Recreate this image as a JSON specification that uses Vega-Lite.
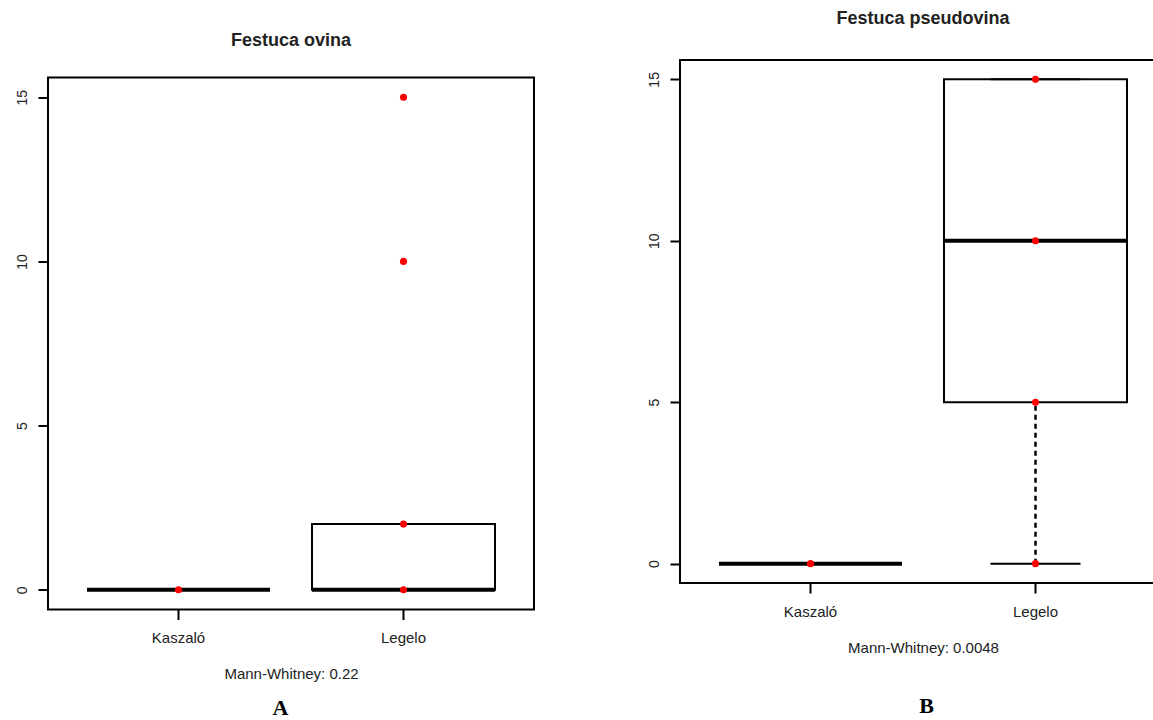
{
  "$schema": "https://vega.github.io/schema/vega-lite/v6.json",
  "background": "white",
  "padding": {"left": 7, "top": 9, "right": 0, "bottom": 0},
  "spacing": 104,
  "center": true,
  "config": {
    "font": "Liberation Sans",
    "view": {"stroke": "black", "strokeWidth": 2},
    "axis": {"labelColor": "#222", "titleColor": "#222", "tickColor": "black", "grid": false, "labelFont": "Liberation Sans", "titleFont": "Liberation Sans"},
    "title": {"color": "#222", "font": "Liberation Sans", "fontWeight": "bold", "fontSize": 18, "frame": "group", "anchor": "middle"}
  },
  "datasets": {
    "boxA": [
      {"site": "Kaszaló", "lower": 0, "q1": 0, "median": 0, "q3": 0, "upper": 0},
      {"site": "Legelo", "lower": 0, "q1": 0, "median": 0, "q3": 2, "upper": 2}
    ],
    "ptsA": [
      {"site": "Kaszaló", "value": 0},
      {"site": "Legelo", "value": 0},
      {"site": "Legelo", "value": 2},
      {"site": "Legelo", "value": 10},
      {"site": "Legelo", "value": 15}
    ],
    "boxB": [
      {"site": "Kaszaló", "lower": 0, "q1": 0, "median": 0, "q3": 0, "upper": 0},
      {"site": "Legelo", "lower": 0, "q1": 5, "median": 10, "q3": 15, "upper": 15}
    ],
    "ptsB": [
      {"site": "Kaszaló", "value": 0},
      {"site": "Legelo", "value": 0},
      {"site": "Legelo", "value": 5},
      {"site": "Legelo", "value": 10},
      {"site": "Legelo", "value": 15}
    ]
  },
  "hconcat": [
    {
      "title": {"text": "Festuca ovina", "offset": 28},
      "width": 486,
      "height": 532,
      "resolve": {"axis": {"x": "independent"}},
      "layer": [
        {
          "data": {"name": "boxA"},
          "mark": {"type": "bar", "size": 183, "fill": "white", "stroke": "black", "strokeWidth": 2},
          "encoding": {
            "x": {"field": "site", "type": "nominal", "scale": {"type": "band", "domain": ["Kaszaló", "Legelo"], "paddingInner": 0, "paddingOuter": 0.08},
                  "axis": {"title": "Mann-Whitney: 0.22", "labelAngle": 0, "tickSize": 10, "tickWidth": 2, "labelPadding": 11, "labelFontSize": 15, "titleFontSize": 15, "titleFontWeight": "normal", "titlePadding": 21, "domain": false}},
            "y": {"field": "q1", "type": "quantitative", "title": null, "scale": {"domain": [-0.6, 15.6], "nice": false, "zero": false},
                  "axis": {"values": [0, 5, 10, 15], "labelAngle": -90, "labelAlign": "center", "labelBaseline": "bottom", "labelPadding": 9, "tickSize": 10, "tickWidth": 2, "labelFontSize": 14, "domain": false, "minExtent": 40, "maxExtent": 40}},
            "y2": {"field": "q3"}
          }
        },
        {
          "data": {"name": "boxA"},
          "mark": {"type": "rule", "color": "black", "strokeWidth": 2.5, "strokeDash": [5, 4]},
          "encoding": {
            "x": {"field": "site", "type": "nominal", "axis": null},
            "y": {"field": "lower", "type": "quantitative", "title": null},
            "y2": {"field": "q1"}
          }
        },
        {
          "data": {"name": "boxA"},
          "mark": {"type": "rule", "color": "black", "strokeWidth": 2.5, "strokeDash": [5, 4]},
          "encoding": {
            "x": {"field": "site", "type": "nominal", "axis": null},
            "y": {"field": "q3", "type": "quantitative", "title": null},
            "y2": {"field": "upper"}
          }
        },
        {
          "data": {"name": "boxA"},
          "mark": {"type": "tick", "color": "black", "size": 90, "thickness": 2, "opacity": 1},
          "encoding": {
            "x": {"field": "site", "type": "nominal", "axis": null},
            "y": {"field": "lower", "type": "quantitative", "title": null}
          }
        },
        {
          "data": {"name": "boxA"},
          "mark": {"type": "tick", "color": "black", "size": 90, "thickness": 2, "opacity": 1},
          "encoding": {
            "x": {"field": "site", "type": "nominal", "axis": null},
            "y": {"field": "upper", "type": "quantitative", "title": null}
          }
        },
        {
          "data": {"name": "boxA"},
          "mark": {"type": "tick", "color": "black", "size": 183, "thickness": 4, "opacity": 1},
          "encoding": {
            "x": {"field": "site", "type": "nominal", "axis": null},
            "y": {"field": "median", "type": "quantitative", "title": null}
          }
        },
        {
          "data": {"name": "ptsA"},
          "mark": {"type": "circle", "color": "#ff0000", "size": 50, "opacity": 1},
          "encoding": {
            "x": {"field": "site", "type": "nominal",
                  "axis": {"orient": "bottom", "title": "A", "labels": false, "ticks": false, "domain": false, "titleFont": "Liberation Serif", "titleFontSize": 22, "titleFontWeight": "bold", "titleColor": "black", "titlePadding": 88, "titleX": 232}},
            "y": {"field": "value", "type": "quantitative", "title": null}
          }
        }
      ]
    },
    {
      "title": {"text": "Festuca pseudovina", "offset": 32},
      "width": 486,
      "height": 523,
      "resolve": {"axis": {"x": "independent"}},
      "layer": [
        {
          "data": {"name": "boxB"},
          "mark": {"type": "bar", "size": 183, "fill": "white", "stroke": "black", "strokeWidth": 2},
          "encoding": {
            "x": {"field": "site", "type": "nominal", "scale": {"type": "band", "domain": ["Kaszaló", "Legelo"], "paddingInner": 0, "paddingOuter": 0.08},
                  "axis": {"title": "Mann-Whitney: 0.0048", "labelAngle": 0, "tickSize": 10, "tickWidth": 2, "labelPadding": 11, "labelFontSize": 15, "titleFontSize": 15, "titleFontWeight": "normal", "titlePadding": 21, "domain": false}},
            "y": {"field": "q1", "type": "quantitative", "title": null, "scale": {"domain": [-0.6, 15.6], "nice": false, "zero": false},
                  "axis": {"values": [0, 5, 10, 15], "labelAngle": -90, "labelAlign": "center", "labelBaseline": "bottom", "labelPadding": 9, "tickSize": 10, "tickWidth": 2, "labelFontSize": 14, "domain": false, "minExtent": 40, "maxExtent": 40}},
            "y2": {"field": "q3"}
          }
        },
        {
          "data": {"name": "boxB"},
          "mark": {"type": "rule", "color": "black", "strokeWidth": 2.5, "strokeDash": [5, 4]},
          "encoding": {
            "x": {"field": "site", "type": "nominal", "axis": null},
            "y": {"field": "lower", "type": "quantitative", "title": null},
            "y2": {"field": "q1"}
          }
        },
        {
          "data": {"name": "boxB"},
          "mark": {"type": "rule", "color": "black", "strokeWidth": 2.5, "strokeDash": [5, 4]},
          "encoding": {
            "x": {"field": "site", "type": "nominal", "axis": null},
            "y": {"field": "q3", "type": "quantitative", "title": null},
            "y2": {"field": "upper"}
          }
        },
        {
          "data": {"name": "boxB"},
          "mark": {"type": "tick", "color": "black", "size": 90, "thickness": 2, "opacity": 1},
          "encoding": {
            "x": {"field": "site", "type": "nominal", "axis": null},
            "y": {"field": "lower", "type": "quantitative", "title": null}
          }
        },
        {
          "data": {"name": "boxB"},
          "mark": {"type": "tick", "color": "black", "size": 90, "thickness": 2, "opacity": 1},
          "encoding": {
            "x": {"field": "site", "type": "nominal", "axis": null},
            "y": {"field": "upper", "type": "quantitative", "title": null}
          }
        },
        {
          "data": {"name": "boxB"},
          "mark": {"type": "tick", "color": "black", "size": 183, "thickness": 4, "opacity": 1},
          "encoding": {
            "x": {"field": "site", "type": "nominal", "axis": null},
            "y": {"field": "median", "type": "quantitative", "title": null}
          }
        },
        {
          "data": {"name": "ptsB"},
          "mark": {"type": "circle", "color": "#ff0000", "size": 50, "opacity": 1},
          "encoding": {
            "x": {"field": "site", "type": "nominal",
                  "axis": {"orient": "bottom", "title": "B", "labels": false, "ticks": false, "domain": false, "minExtent": 153, "maxExtent": 153, "titleFont": "Liberation Serif", "titleFontSize": 22, "titleFontWeight": "bold", "titleColor": "black", "titleBaseline": "top", "titleY": 112, "titleX": 246}},
            "y": {"field": "value", "type": "quantitative", "title": null}
          }
        }
      ]
    }
  ]
}
